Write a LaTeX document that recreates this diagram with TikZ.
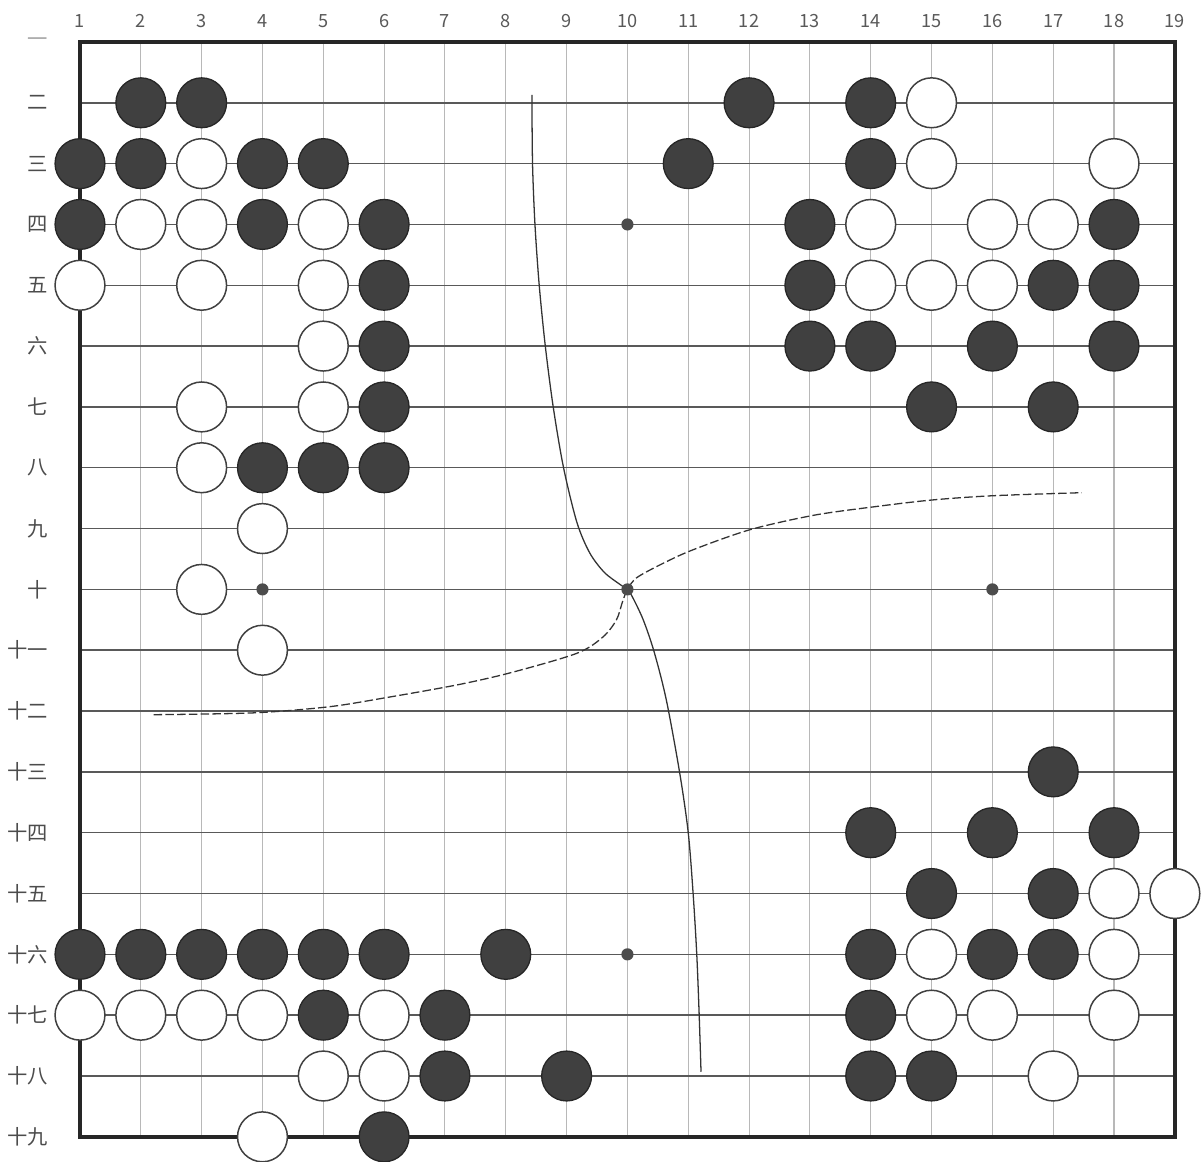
\documentclass[tikz,border=0pt]{standalone}
\usepackage{fontspec}
\newfontfamily\cjk{Noto Sans CJK SC}
\usepackage{tikz}
\usetikzlibrary{calc}

\begin{document}
\begin{tikzpicture}[
    x=1cm, y=-1cm,
    bstone/.style={circle, draw=black!85, fill=black!75, line width=0.6pt, minimum size=0.82cm, inner sep=0pt},
    wstone/.style={circle, draw=black!75, fill=white, line width=0.7pt, minimum size=0.82cm, inner sep=0pt},
    star/.style={circle, fill=black!70, minimum size=0.2cm, inner sep=0pt},
    vline/.style={black!28, line width=0.5pt},
    hline/.style={black!65, line width=0.7pt},
    border/.style={black!85, line width=1.8pt},
    collabel/.style={font=\cjk\fontsize{8.5}{10}\selectfont, text=black!65},
    rowlabel/.style={font=\cjk\fontsize{9.5}{11}\selectfont, text=black!70, anchor=east},
    curve/.style={black!80, line width=0.6pt}
]
\useasboundingbox (-0.315,0.31) rectangle (19.43,19.40);

% board
\foreach \i in {2,...,18}
  \draw[vline] (\i,1) -- (\i,19);
\foreach \i in {2,...,18}
  \draw[hline] (1,\i) -- (19,\i);
\draw[border] (1,1) rectangle (19,19);

% labels
\foreach \i in {1,...,19}
  \node[collabel] (col\i) at (\i,0.66) {\i};
\node[rowlabel, text=black!35] (row1) at (0.6,1) {一};
\foreach \i/\t in {2/二,3/三,4/四,5/五,6/六,7/七,8/八,9/九,10/十,11/十一,12/十二,13/十三,14/十四,15/十五,16/十六,17/十七,18/十八,19/十九}
  \node[rowlabel] (row\i) at (0.6,\i) {\t};

% curves through the centre point
\coordinate (tengen) at (10,10);
\draw[curve] plot[smooth, tension=0.5] coordinates {(8.43,1.87) (8.44,3) (8.48,4) (8.55,5) (8.65,6) (8.78,7) (8.95,8) (9.17,8.9) (9.38,9.4) (9.62,9.72) (9.88,9.92) (tengen) (10.08,10.12) (10.26,10.5) (10.44,11.03) (10.64,11.82) (10.86,13.02) (11,14) (11.08,15) (11.14,16) (11.18,17) (11.21,17.93)};
\draw[curve, dash pattern=on 4pt off 1.5pt] plot[smooth, tension=0.5] coordinates {(2.21,12.06) (3.85,12.03) (5.09,11.93) (6.03,11.78) (7.2,11.57) (8.08,11.37) (9.17,11.05) (9.6,10.78) (9.82,10.5) (9.92,10.2) (tengen) (10.15,9.81) (10.53,9.6) (11.05,9.36) (12.01,9.02) (13.07,8.78) (14.07,8.64) (15.01,8.53) (16.01,8.46) (17.47,8.41)};

% star points
\foreach \c/\r in {10/4, 4/10, 10/10, 16/10, 10/16}
  \node[star] (star\c-\r) at (\c,\r) {};

% black stones
\foreach \c/\r in {2/2,3/2,12/2,14/2,
    1/3,2/3,4/3,5/3,11/3,14/3,
    1/4,4/4,6/4,13/4,18/4,
    6/5,13/5,17/5,18/5,
    6/6,13/6,14/6,16/6,18/6,
    6/7,15/7,17/7,
    4/8,5/8,6/8,
    17/13,
    14/14,16/14,18/14,
    15/15,17/15,
    1/16,2/16,3/16,4/16,5/16,6/16,8/16,14/16,16/16,17/16,
    5/17,7/17,14/17,
    7/18,9/18,14/18,15/18,
    6/19}
  \node[bstone] (b\c-\r) at (\c,\r) {};

% white stones
\foreach \c/\r in {15/2,
    3/3,15/3,18/3,
    2/4,3/4,5/4,14/4,16/4,17/4,
    1/5,3/5,5/5,14/5,15/5,16/5,
    5/6,
    3/7,5/7,
    3/8,
    4/9,
    3/10,
    4/11,
    18/15,19/15,
    15/16,18/16,
    1/17,2/17,3/17,4/17,6/17,15/17,16/17,18/17,
    5/18,6/18,17/18,
    4/19}
  \node[wstone] (w\c-\r) at (\c,\r) {};

\end{tikzpicture}
\end{document}
